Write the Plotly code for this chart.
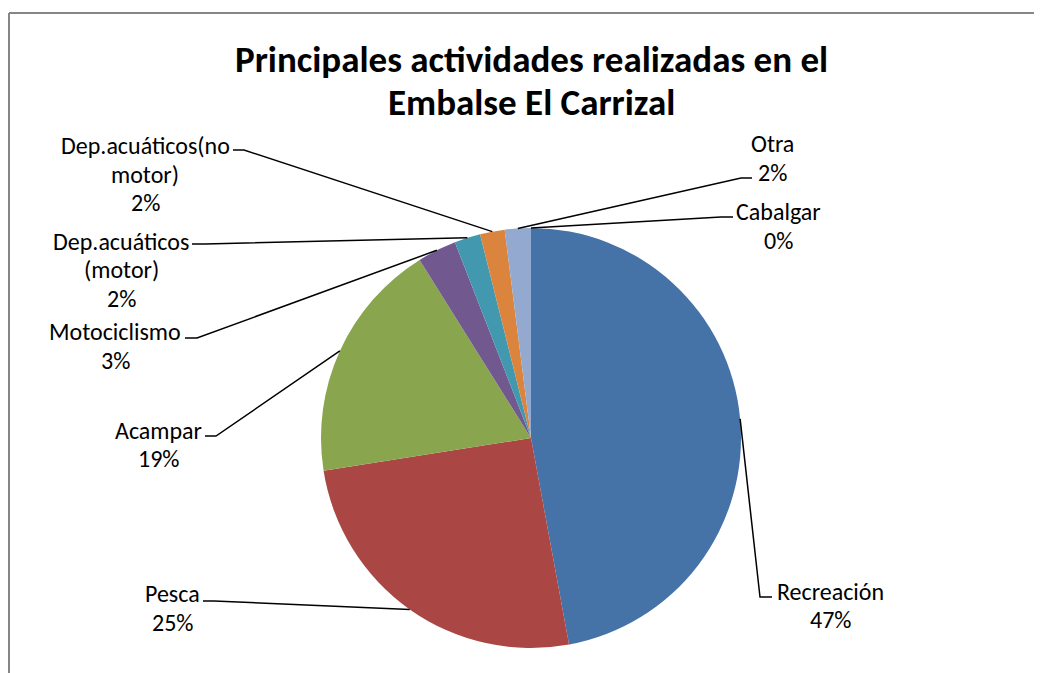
import math
import plotly.graph_objects as go

# ---------------- data ----------------
categories = ["Recreación", "Pesca", "Acampar", "Motociclismo",
              "Dep.acuáticos (motor)", "Dep.acuáticos(no motor)", "Otra", "Cabalgar"]
values = [47.1, 25.4, 18.6, 3.0, 2.0, 1.9, 2.0, 0.0]
label_lines = [["Recreación"], ["Pesca"], ["Acampar"], ["Motociclismo"],
               ["Dep.acuáticos", "(motor)"], ["Dep.acuáticos(no", "motor)"],
               ["Otra"], ["Cabalgar"]]
colors = ["#4572A7", "#AA4643", "#89A54E", "#71588F",
          "#4198AF", "#DB843D", "#93A9CF", "#B9CD96"]
title_lines = ["Principales actividades realizadas en el", "Embalse El Carrizal"]

# ---------------- layout constants (pixels in the window) ----------------
OFF = 8               # default body margin of the html page
W, H = 1042 - OFF, 673 - OFF
CX, CY, R = 531, 438, 210
FONT = "Carlito, Lato, sans-serif"
LS = 28.5             # label line spacing

# label block centres and leader elbows: (text_x, text_y, start_x, knee_x, elbow_y)
label_layout = [
    (830, 605.5, 772, 760, 597),
    (172, 608, 203, 214, 601),
    (158, 444.5, 205, 216, 436),
    (115, 346, 185, 197, 338),
    (121, 270, 192, 205, 244),
    (145, 174, 233, 244, 150),
    (772, 158, 752, 741, 178),
    (778, 226, 733, 721, 217),
]


def px(x):
    return (x - OFF) / W


def py(y):
    return 1 - (y - OFF) / H


fig = go.Figure(go.Pie(
    labels=categories,
    values=values,
    sort=False,
    direction="clockwise",
    rotation=0,
    textinfo="none",
    hoverinfo="label+percent",
    marker=dict(colors=colors, line=dict(width=0)),
    domain=dict(x=[px(CX - R), px(CX + R)], y=[py(CY + R), py(CY - R)]),
    showlegend=False,
))

total = sum(values)
shapes = []
annotations = []
cum = 0.0
for i, v in enumerate(values):
    mid = (cum + v / 2) / total * 2 * math.pi
    cum += v
    ex = CX + R * math.sin(mid)
    ey = CY - R * math.cos(mid)
    tx, ty, sx, kx, ey2 = label_layout[i]
    pct = round(v / total * 100)
    shapes.append(dict(
        type="path", xref="paper", yref="paper",
        path=f"M {px(sx)} {py(ey2)} L {px(kx)} {py(ey2)} L {px(ex)} {py(ey)}",
        line=dict(color="black", width=1.5),
    ))
    lines = label_lines[i] + [f"{pct}%"]
    n = len(lines)
    for j, t in enumerate(lines):
        yy = ty + (j - (n - 1) / 2) * LS
        annotations.append(dict(
            x=px(tx), y=py(yy), xref="paper", yref="paper",
            text=t, showarrow=False,
            xanchor="center", yanchor="middle", align="center",
            font=dict(family=FONT, size=24, color="black"),
        ))

# chart frame: left side and top side (the rest is outside the picture)
shapes.append(dict(type="line", xref="paper", yref="paper",
                   x0=px(9), y0=0, x1=px(9), y1=py(13),
                   line=dict(color="#868686", width=2)))
shapes.append(dict(type="line", xref="paper", yref="paper",
                   x0=px(9), y0=py(13), x1=1, y1=py(13),
                   line=dict(color="#868686", width=2)))

for j, t in enumerate(title_lines):
    annotations.append(dict(
        x=px(531), y=py(60 + j * 43), xref="paper", yref="paper",
        text=f"<b>{t}</b>", showarrow=False,
        xanchor="center", yanchor="middle", align="center",
        font=dict(family=FONT, size=37, color="black"),
    ))

fig.update_layout(
    width=W, height=H,
    margin=dict(l=0, r=0, t=0, b=0),
    paper_bgcolor="white", plot_bgcolor="white",
    shapes=shapes, annotations=annotations,
)

fig.write_html("out.html")
